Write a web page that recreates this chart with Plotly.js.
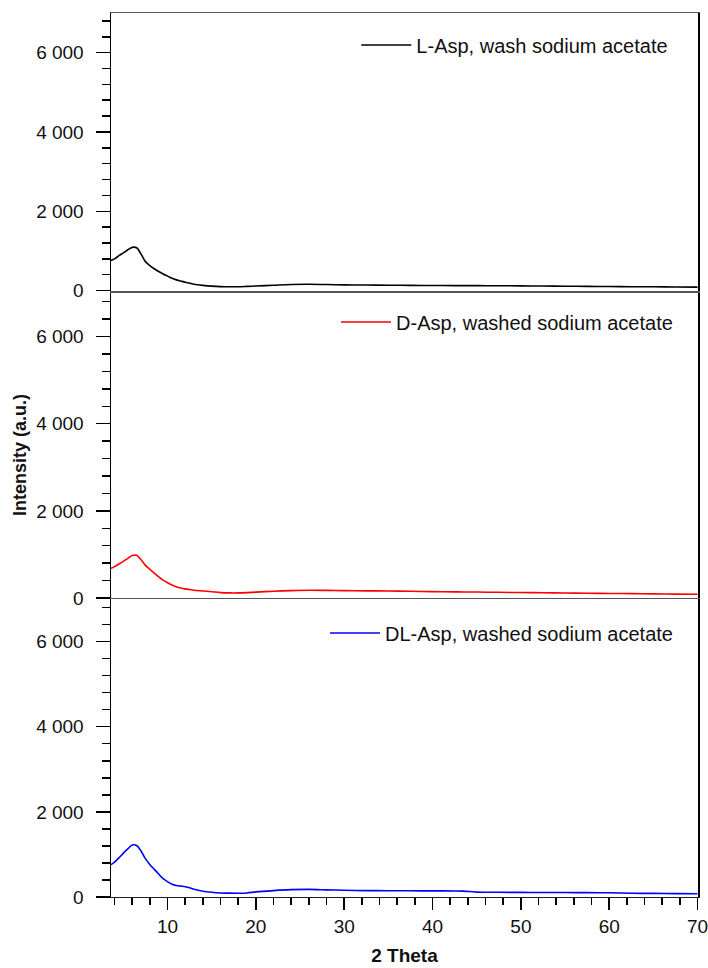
<!DOCTYPE html>
<html>
<head>
<meta charset="utf-8">
<script src="https://cdn.plot.ly/plotly-3.0.1.min.js"></script>
<style>
  html, body { margin: 0; padding: 0; background: #fff; }
  #chart { width: 708px; height: 968px; }
</style>
</head>
<body>
<div id="chart"></div>
<script>
// Powder XRD patterns of aspartic acid samples washed with sodium acetate
const twoTheta = [3.6, 4, 4.5, 5, 5.5, 6, 6.5, 7, 7.5, 8, 8.5, 9, 9.5, 10, 10.5, 11, 11.5, 12, 12.5, 13, 14, 15, 16, 17, 18, 19, 20, 22, 24, 26, 28, 30, 32.5, 35, 37.5, 40, 42.5, 43.5, 45, 47.5, 50, 52.5, 55, 57.5, 60, 62.5, 65, 67.5, 70];

const lAsp  = [760, 800, 880, 950, 1030, 1090, 1080, 920, 730, 630, 550, 480, 420, 365, 310, 270, 240, 210, 185, 160, 132, 112, 100, 95, 97, 105, 115, 135, 155, 160, 152, 145, 140, 135, 130, 128, 126, 125, 124, 122, 118, 114, 110, 106, 102, 98, 95, 90, 86];
const dAsp  = [680, 720, 780, 840, 910, 975, 980, 880, 750, 660, 570, 485, 410, 350, 300, 260, 230, 210, 195, 180, 163, 145, 125, 118, 118, 125, 135, 155, 170, 178, 175, 170, 165, 162, 155, 148, 142, 140, 137, 131, 126, 120, 115, 110, 105, 100, 95, 90, 85];
const dlAsp = [760, 820, 920, 1030, 1130, 1220, 1210, 1080, 900, 760, 650, 540, 430, 360, 300, 270, 255, 240, 215, 180, 135, 110, 95, 90, 88, 95, 120, 150, 172, 178, 168, 158, 150, 148, 145, 143, 142, 138, 115, 110, 108, 106, 104, 102, 98, 88, 84, 80, 76];

const seriesNames = ['L-Asp, wash sodium acetate', 'D-Asp, washed sodium acetate', 'DL-Asp, washed sodium acetate'];
const seriesColors = ['#000000', '#ff0000', '#0000ff'];

const FONT = 'Liberation Sans, Arial, Helvetica, sans-serif';
const tickFont = { family: FONT, size: 19, color: '#111' };

const traces = [
  { x: twoTheta, y: lAsp,  xaxis: 'x3', yaxis: 'y',  legend: 'legend' },
  { x: twoTheta, y: dAsp,  xaxis: 'x2', yaxis: 'y2', legend: 'legend2' },
  { x: twoTheta, y: dlAsp, xaxis: 'x',  yaxis: 'y3', legend: 'legend3' }
].map((t, i) => Object.assign(t, {
  type: 'scatter',
  mode: 'lines',
  name: seriesNames[i],
  line: { color: seriesColors[i], width: 1.6, shape: 'spline', smoothing: 0.8 },
  showlegend: true
}));

function yAxis(domain, anchor) {
  return {
    domain: domain,
    anchor: anchor,
    range: [0, 7000],
    dtick: 2000,
    tick0: 0,
    ticks: 'outside',
    ticklen: 14,
    tickwidth: 1.5,
    tickcolor: '#000',
    minor: { dtick: 400, ticks: 'outside', ticklen: 8, tickwidth: 1.5, tickcolor: '#000', showgrid: false },
    separatethousands: true,
    showline: true,
    linecolor: '#000',
    linewidth: 1.5,
    mirror: true,
    showgrid: false,
    zeroline: false,
    tickfont: tickFont,
    ticklabelstandoff: 8,
    fixedrange: true
  };
}

function upperX(anchor) {
  return {
    matches: 'x',
    anchor: anchor,
    domain: [0, 1],
    showticklabels: false,
    ticks: '',
    showline: true,
    linecolor: '#555',
    linewidth: 1,
    mirror: true,
    showgrid: false,
    zeroline: false
  };
}

function legendAt(x, y) {
  return {
    x: x, xanchor: 'right',
    y: y, yanchor: 'middle',
    bgcolor: 'rgba(0,0,0,0)',
    borderwidth: 0,
    font: { family: FONT, size: 20, color: '#111' },
    itemwidth: 50
  };
}

const layout = {
  width: 708,
  height: 968,
  margin: { l: 111, r: 10, t: 13, b: 71 },
  paper_bgcolor: '#fff',
  plot_bgcolor: '#fff',
  separators: '. ',
  font: { family: FONT, color: '#111' },
  xaxis: {
    domain: [0, 1],
    anchor: 'y3',
    range: [3.6, 70.05],
    dtick: 10,
    tick0: 0,
    ticks: 'outside',
    ticklen: 12,
    tickwidth: 1.5,
    tickcolor: '#000',
    minor: { dtick: 2, ticks: 'outside', ticklen: 7, tickwidth: 1.5, tickcolor: '#000', showgrid: false },
    showline: true,
    linecolor: '#222',
    linewidth: 1,
    mirror: true,
    showgrid: false,
    zeroline: false,
    tickfont: tickFont,
    ticklabeloverflow: 'allow',
    title: { text: '<b>2 Theta</b>', font: { family: FONT, size: 19, color: '#111' }, standoff: 12 },
    fixedrange: true
  },
  xaxis2: upperX('y2'),
  xaxis3: upperX('y'),
  yaxis: yAxis([0.686, 1], 'x3'),
  yaxis2: yAxis([0.3382, 0.6833], 'x2'),
  yaxis3: yAxis([0, 0.3371], 'x'),
  legend: legendAt(0.958, 0.9638),
  legend2: legendAt(0.966, 0.6505),
  legend3: legendAt(0.966, 0.2986),
  annotations: [{
    text: '<b>Intensity (a.u.)</b>',
    xref: 'paper', yref: 'paper',
    x: -0.155, y: 0.5,
    xanchor: 'center', yanchor: 'middle',
    textangle: -90,
    showarrow: false,
    font: { family: FONT, size: 18, color: '#111' }
  }]
};

Plotly.newPlot('chart', traces, layout, { staticPlot: true, displayModeBar: false });
</script>
</body>
</html>
